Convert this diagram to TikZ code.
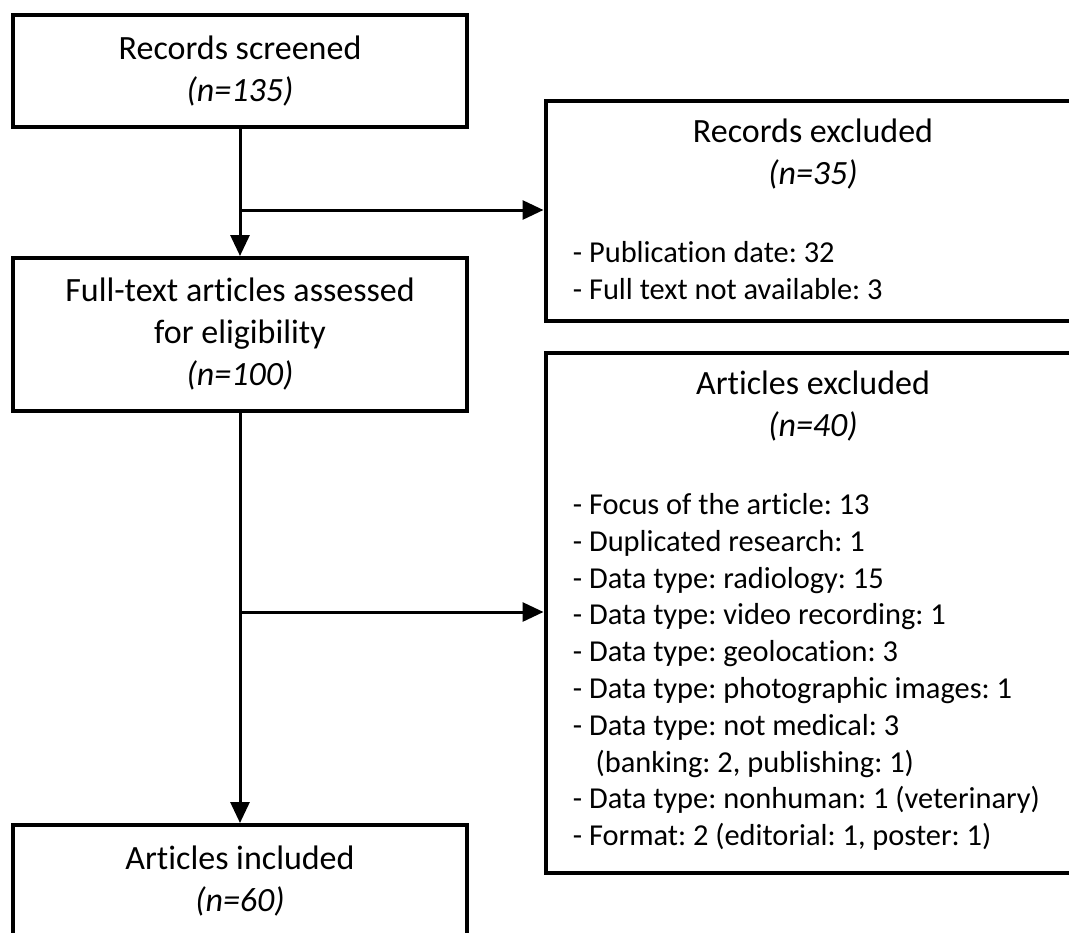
\documentclass[tikz,border=0pt]{standalone}
\usepackage{fontspec}
\setmainfont{Carlito}[Ligatures=NoCommon]
\usetikzlibrary{arrows.meta, positioning}
\frenchspacing

\begin{document}
\begin{tikzpicture}[x=0.5pt, y=-0.5pt,
    box/.style={draw, line width=2pt, rectangle, inner sep=0pt},
    conn/.style={line width=1.5pt, -{Triangle[length=10.5pt, width=9.5pt]}},
    head/.style={align=center, font=\fontsize{17}{21}\selectfont, inner sep=0pt},
    items/.style={align=left, font=\fontsize{15.2}{18.4}\selectfont, inner sep=0pt}]
    \useasboundingbox (0,0) rectangle (1069,932);
    \clip (0,0) rectangle (1069,932);

    % Main column
    \node[box, head, minimum width=227pt, minimum height=56pt] (screened) at (240,71)
        {Records screened\\\textit{(n=135)}};
    \node[box, head, minimum width=227pt, minimum height=76.5pt] (assessed) at (240,334.5)
        {Full-text articles assessed\\for eligibility\\\textit{(n=100)}};
    \node[box, head, minimum width=227pt, minimum height=56pt] (included) at (240,881)
        {Articles included\\\textit{(n=60)}};

    % Excluded boxes
    \node[box, minimum width=267.5pt, minimum height=110pt] (recex) at (813,211) {};
    \node[head] (recextitle) at ([yshift=-27.75pt]recex.north)
        {Records excluded\\\textit{(n=35)}};
    \node[items, anchor=north west] (recexlist) at ([xshift=14.5pt, yshift=-71pt]recex.north west)
        {- Publication date: 32\\- Full text not available: 3};

    \node[box, minimum width=267.5pt, minimum height=260pt] (artex) at (813,613) {};
    \node[head] (artextitle) at ([yshift=-27.75pt]artex.north)
        {Articles excluded\\\textit{(n=40)}};
    \node[items, anchor=north west] (artexlist) at ([xshift=14.5pt, yshift=-71pt]artex.north west)
        {- Focus of the article: 13\\
         - Duplicated research: 1\\
         - Data type: radiology: 15\\
         - Data type: video recording: 1\\
         - Data type: geolocation: 3\\
         - Data type: photographic images: 1\\
         - Data type: not medical: 3\\
         \hspace{0.75em}(banking: 2, publishing: 1)\\
         - Data type: nonhuman: 1 (veterinary)\\
         - Format: 2 (editorial: 1, poster: 1)};

    % Arrows
    \coordinate (split1) at (240,210);
    \coordinate (split2) at (240,612);
    \draw[conn] (screened.south) -- (assessed.north);
    \draw[conn] (split1) -- (split1 -| recex.west);
    \draw[conn] (assessed.south) -- (included.north);
    \draw[conn] (split2) -- (split2 -| artex.west);
\end{tikzpicture}
\end{document}
